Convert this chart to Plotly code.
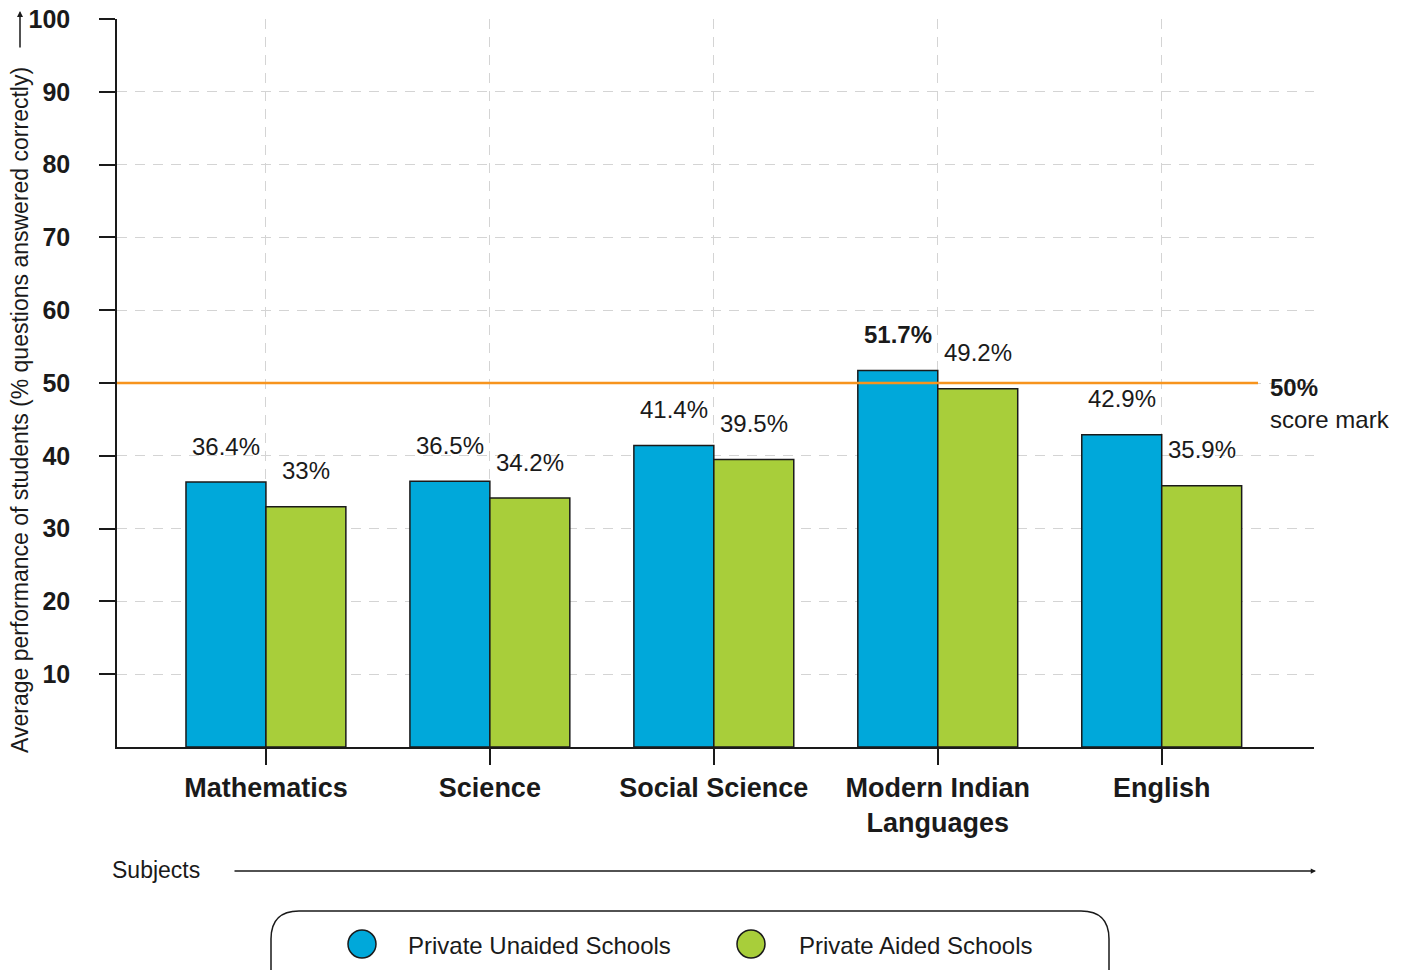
import plotly.graph_objects as go

subjects = ["Mathematics", "Science", "Social Science", "Modern Indian<br>Languages", "English"]
series_names = ["Private Unaided Schools", "Private Aided Schools"]
unaided = [36.4, 36.5, 41.4, 51.7, 42.9]
aided = [33.0, 34.2, 39.5, 49.2, 35.9]
y_ticks = [10, 20, 30, 40, 50, 60, 70, 80, 90, 100]
score_mark = 50

BLUE = "#00A8DA"
GREEN = "#A8CE3A"
ORANGE = "#F7941D"
INK = "#1a1a1a"
FONT = "Liberation Sans"

# plot area in page pixels: x 116..1313, y 18..746 (page has ~7px body offset)
OFF = 7
L, R, T, B = 116, 1313, 18, 746


def px_x(p):
    return (p - L) / (R - L)


def px_y(p):
    return (B - p) / (B - T)


def fmt(v):
    s = f"{v:.1f}".rstrip("0").rstrip(".")
    return s + "%"


fig = go.Figure()
for name, vals, col in [(series_names[0], unaided, BLUE), (series_names[1], aided, GREEN)]:
    fig.add_trace(go.Bar(x=subjects, y=vals, name=name, marker_color=col,
                         marker_line=dict(color=INK, width=1.5), showlegend=False,
                         hoverinfo="skip"))

annotations = []
for vals, shift in [(unaided, -40), (aided, 40)]:
    for s, v in zip(subjects, vals):
        txt = fmt(v)
        if v > score_mark:
            txt = f"<b>{txt}</b>"
        annotations.append(dict(x=s, y=v, xref="x", yref="y", text=txt, showarrow=False,
                                xshift=shift, yshift=36, yanchor="middle",
                                font=dict(size=24, color=INK)))

# 50% mark labels
annotations.append(dict(x=px_x(1267), y=score_mark, xref="paper", yref="y", text=f"<b>{score_mark}%</b>",
                        showarrow=False, xanchor="left", yanchor="middle", yshift=-4,
                        font=dict(size=24, color=INK)))
annotations.append(dict(x=px_x(1267), y=score_mark, xref="paper", yref="y", text="score mark",
                        showarrow=False, xanchor="left", yanchor="middle", yshift=-36,
                        font=dict(size=24, color=INK)))

# y axis title + arrow
annotations.append(dict(x=px_x(19), y=px_y(409), xref="paper", yref="paper",
                        text="Average performance of students (% questions answered correctly)",
                        textangle=-90, showarrow=False, xanchor="center", yanchor="middle",
                        font=dict(size=23, color=INK)))
annotations.append(dict(x=px_x(19), y=px_y(10), xref="paper", yref="paper", text="",
                        showarrow=True, ax=0, ay=38, arrowhead=2, arrowsize=0.8,
                        arrowwidth=1.5, arrowcolor=INK))

# x axis title + arrow
annotations.append(dict(x=px_x(109), y=px_y(869), xref="paper", yref="paper", text="Subjects",
                        showarrow=False, xanchor="left", yanchor="middle",
                        font=dict(size=23, color=INK)))
annotations.append(dict(x=px_x(1315), y=px_y(870), xref="paper", yref="paper", text="",
                        showarrow=True, ax=-(1315 - 232), ay=0, arrowhead=2, arrowsize=0.7,
                        arrowwidth=1.5, arrowcolor=INK))

shapes = [dict(type="line", xref="paper", yref="y", x0=0, x1=px_x(1257), y0=score_mark, y1=score_mark,
               line=dict(color=ORANGE, width=2.5), layer="above")]

# legend box (rounded top corners, bottom runs off the page)
r = 28
lx0, lx1, ly0, ly1 = 270, 1108, 910, 1010
path = (f"M {px_x(lx0 + r)},{px_y(ly0)} L {px_x(lx1 - r)},{px_y(ly0)} "
        f"Q {px_x(lx1)},{px_y(ly0)} {px_x(lx1)},{px_y(ly0 + r)} L {px_x(lx1)},{px_y(ly1)} "
        f"M {px_x(lx0)},{px_y(ly1)} L {px_x(lx0)},{px_y(ly0 + r)} "
        f"Q {px_x(lx0)},{px_y(ly0)} {px_x(lx0 + r)},{px_y(ly0)}")
shapes.append(dict(type="path", xref="paper", yref="paper", path=path,
                   line=dict(color=INK, width=1.5)))

for name, col, cx, tx in [(series_names[0], BLUE, 361, 405), (series_names[1], GREEN, 750, 796)]:
    shapes.append(dict(type="circle", xref="paper", yref="paper", xsizemode="pixel", ysizemode="pixel",
                       xanchor=px_x(cx), yanchor=px_y(943), x0=-14, x1=14, y0=-14, y1=14,
                       fillcolor=col, line=dict(color=INK, width=1.5)))
    annotations.append(dict(x=px_x(tx), y=px_y(944), xref="paper", yref="paper", text=name,
                            showarrow=False, xanchor="left", yanchor="middle",
                            font=dict(size=24, color=INK)))

fig.update_layout(
    width=1403, height=970,
    margin=dict(l=L - OFF, r=1403 - R + OFF, t=T - OFF, b=970 - B + OFF),
    plot_bgcolor="white", paper_bgcolor="white",
    font=dict(family=FONT, color=INK),
    barmode="group", bargap=0.286, bargroupgap=0,
    showlegend=False,
    annotations=annotations, shapes=shapes,
)
fig.update_xaxes(range=[-0.665, 4.68], showline=True, linecolor=INK, linewidth=1.5,
                 ticks="outside", ticklen=16, tickwidth=1.5, tickcolor=INK,
                 showgrid=True, gridcolor="#d4d4d4", gridwidth=1, griddash="10px,8px",
                 tickfont=dict(size=27, color=INK, family=FONT, weight="bold"),
                 ticklabelstandoff=0, automargin=False)
fig.update_yaxes(range=[0, 100], tickvals=y_ticks, showline=True, linecolor=INK, linewidth=1.5,
                 ticks="outside", ticklen=16, tickwidth=1.5, tickcolor=INK,
                 showgrid=True, gridcolor="#d4d4d4", gridwidth=1, griddash="10px,8px",
                 zeroline=False, tickfont=dict(size=25, color=INK, family=FONT, weight="bold"),
                 ticklabelstandoff=24, ticklabeloverflow="allow", automargin=False)

fig.write_html("out.html")
